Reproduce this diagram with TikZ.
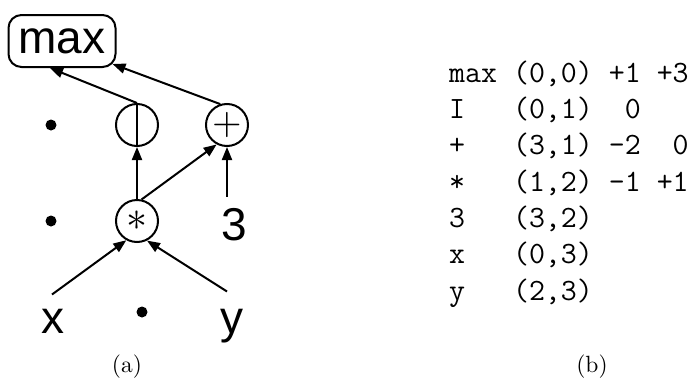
\documentclass[tikz,border=0pt]{standalone}
\usepackage{fontspec}
\usepackage{graphicx}
\newfontfamily\sansf{Liberation Sans}
\usetikzlibrary{arrows.meta,calc}
\begin{document}
\begin{tikzpicture}[x=1pt,y=-1pt,
  lab/.style={font=\sansf\fontsize{46}{50}\selectfont, inner sep=0pt},
  opc/.style={draw, circle, line width=2pt, minimum size=42pt, inner sep=0pt},
  arr/.style={line width=2pt, -{Triangle[length=13pt,width=10pt]}},
  dotn/.style={fill, circle, inner sep=0pt, minimum size=11pt},
  captxt/.style={anchor=base, inner sep=0pt}]
\useasboundingbox (0,0) rectangle (696,383);
% expression DAG
\node[draw, rounded corners=13pt, line width=2pt, minimum width=107pt,
      minimum height=52pt, inner sep=0pt, font=\sansf\fontsize{46}{50}\selectfont]
      (mx) at (62,41) {max};
\node[opc] (cI) at (137,125) {};
\draw[line width=2pt] (cI.north) -- (cI.south);
\node[opc] (cP) at (227,125) {\scalebox{3.8}{$+$}};
\node[opc] (cS) at (137,221) {\scalebox{4.2}{$\ast$}};
\node[dotn] (d1) at (51,125) {};
\node[dotn] (d2) at (51,221) {};
\node[dotn] (d3) at (142,312) {};
\node[lab, anchor=base] (l3) at (234,240) {3};
\node[lab, anchor=base] (lx) at (53,333) {x};
\node[lab, anchor=base] (ly) at (232,333) {y};
\draw[arr] (cI.north) -- (mx.246);
\draw[arr] (cP.108) -- ($(mx.south east)+(-4,-4)$);
\draw[arr] (cS.north) -- (cI.south);
\draw[arr] (cS.78) -- (cP.242);
\draw[arr] ($(cP.south |- l3.north)+(0,-11)$) -- (cP.south);
\draw[arr] ($(lx.north)+(-1,-14)$) -- (cS.241);
\draw[arr] ($(ly.north)+(-5,-17)$) -- (cS.297);
% table
\node[font=\ttfamily\fontsize{31}{36.3}\selectfont, align=left, anchor=base west,
      inner sep=0pt] (tab) at (449,300)
  {max~(0,0)~+1~+3\\
   I~~~(0,1)~~0\\
   +~~~(3,1)~-2~~0\\
   *~~~(1,2)~-1~+1\\
   3~~~(3,2)\\
   x~~~(0,3)\\
   y~~~(2,3)};
% captions
\node[captxt] (capa) at (127,372) {\scalebox{2.35}{(a)}};
\node[captxt] (capb) at (592,372) {\scalebox{2.35}{(b)}};
\end{tikzpicture}
\end{document}
